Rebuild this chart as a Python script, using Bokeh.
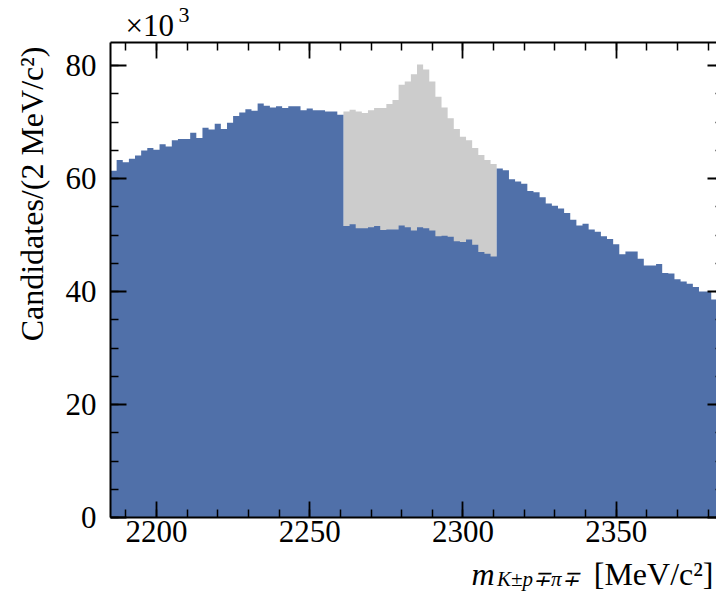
import numpy as np
from bokeh.plotting import figure
from bokeh.models import LinearAxis, SingleIntervalTicker, Label, ColumnDataSource
from bokeh.embed import file_html
from bokeh.resources import INLINE

# Histogram binning of the K p pi invariant mass, MeV/c^2
bin_start = 2185
bin_width = 2
mass_max = 2385

# Candidates per bin (x10^3). Inside the mass window these are the lower (blue) part.
counts_blue = [
    61.4, 63.3, 62.9, 63.5, 64.1, 65.0, 65.4, 65.1, 66.1, 65.7,
    66.8, 67.0, 67.0, 68.1, 67.2, 69.0, 68.7, 69.7, 68.8, 69.9,
    71.1, 71.7, 72.3, 72.0, 73.3, 72.9, 72.6, 72.8, 72.5, 72.8,
    72.8, 72.1, 72.4, 72.1, 72.1, 71.9, 71.9, 71.3,
    51.6, 51.9, 51.2, 51.2, 51.4, 51.6, 50.9, 51.0, 51.0, 51.7,
    51.4, 50.8, 51.4, 51.2, 50.8, 49.8, 49.9, 49.7, 48.9, 48.8,
    49.2, 48.3, 47.0, 46.7, 46.2,
    61.8, 61.5, 59.9, 59.5, 59.1, 57.8, 57.6, 56.7, 55.6, 55.2,
    54.7, 53.9, 52.7, 51.7, 52.0, 51.0, 50.6, 49.8, 49.3, 48.4,
    46.6, 47.1, 47.1, 45.8, 44.6, 44.6, 44.9, 43.3, 43.2, 42.2,
    41.8, 41.4, 40.8, 40.0, 40.0, 38.6,
]

# Mass window: total candidates per bin (x10^3)
window_start = 2261
counts_window = [
    71.9, 72.2, 71.9, 71.6, 72.1, 72.5, 72.5, 73.2, 73.9, 76.6,
    77.2, 78.5, 80.2, 79.3, 77.2, 74.5, 72.6, 70.7, 68.8, 67.4,
    66.8, 65.4, 64.2, 63.3, 62.6,
]

y_max = 84.1
x_ticks_major = 50
y_ticks_major = 20

BLUE = "#5070A9"
GREY = "#CCCCCC"
FONT = "Liberation Serif"
FS = "31px"

W, H = 716, 592
# pixel geometry of the axes box inside the canvas
box_left, box_top, box_bottom = 110, 42, 517
px_per_mev = 3.065
px_per_k = (box_bottom - box_top) / y_max

x0 = bin_start - box_left / px_per_mev
x1 = bin_start + (W - box_left) / px_per_mev
y0 = -(H - box_bottom) / px_per_k
y1 = y_max + box_top / px_per_k


def step_source(first_edge, counts):
    # bin edges plus the last count repeated, for a filled step outline
    edges = first_edge + bin_width * np.arange(len(counts) + 1)
    tops = list(counts) + [counts[-1]]
    return ColumnDataSource(dict(x=edges, top=tops, base=np.zeros(len(edges))))


src_all = step_source(bin_start, counts_blue)
src_win = step_source(window_start, counts_window)

p = figure(width=W, height=H, x_range=(x0, x1), y_range=(y0, y1),
           output_backend="svg", toolbar_location=None,
           x_axis_location=None, y_axis_location=None, min_border=0)
p.outline_line_color = None
p.grid.visible = False
p.background_fill_color = "white"
p.border_fill_color = "white"

p.varea_step(x="x", y1="base", y2="top", step_mode="after", source=src_win,
             fill_color=GREY)
p.varea_step(x="x", y1="base", y2="top", step_mode="after", source=src_all,
             fill_color=BLUE)


def make_axis(ticker, loc, bounds, show_labels=True, line=True):
    ax = LinearAxis(ticker=ticker, fixed_location=loc, bounds=bounds)
    ax.axis_line_color = "black" if line else None
    ax.axis_line_width = 2
    ax.major_tick_line_color = "black"
    ax.minor_tick_line_color = "black"
    ax.major_tick_line_width = 1.8
    ax.minor_tick_line_width = 1.5
    ax.major_tick_in = 16
    ax.major_tick_out = 0
    ax.minor_tick_in = 8
    ax.minor_tick_out = 0
    ax.major_label_text_font = FONT
    ax.major_label_text_font_size = FS
    if show_labels:
        ax.major_label_text_color = "black"
    else:
        # mirrored axis: ticks only
        ax.major_label_text_color = None
        ax.major_label_standoff = 0
    return ax


xt = SingleIntervalTicker(interval=x_ticks_major, num_minor_ticks=5)
yt = SingleIntervalTicker(interval=y_ticks_major, num_minor_ticks=4)

bottom_ax = make_axis(xt, 0, (bin_start, mass_max))
bottom_ax.major_label_standoff = 3
left_ax = make_axis(yt, bin_start, (0, y_max))
left_ax.major_label_standoff = 14
top_ax = make_axis(xt, y_max, (bin_start, mass_max), show_labels=False)
right_ax = make_axis(yt, mass_max, (0, y_max), show_labels=False)

p.add_layout(bottom_ax, "below")
p.add_layout(left_ax, "left")
p.add_layout(top_ax, "above")
p.add_layout(right_ax, "right")


def label(text, x, y, size=FS, style="normal", align="left", angle=0.0):
    # x, y: canvas pixels measured from the top-left corner
    p.add_layout(Label(x=x, y=H - y, x_units="screen", y_units="screen",
                       text=text, text_font=FONT, text_font_size=size,
                       text_font_style=style, text_color="black",
                       text_baseline="alphabetic", text_align=align,
                       angle=angle))


# exponent marker above the y axis
label("×10", 125, 25)
label("3", 178, 14, size="22px")

# y axis title, aligned to the top end of the axis
label("Candidates/(2 MeV/c²)", 31, 46, size="32px", align="right",
      angle=np.pi / 2)

# x axis title, aligned to the right end of the axis
label("[MeV/c²]", 713, 573, size="32px", align="right")
label("K±p∓π∓", 579, 578, size="21px", style="italic", align="right")
label("m", 494, 573, size="32px", style="italic", align="right")

open("out.html", "w").write(file_html(p, INLINE))
